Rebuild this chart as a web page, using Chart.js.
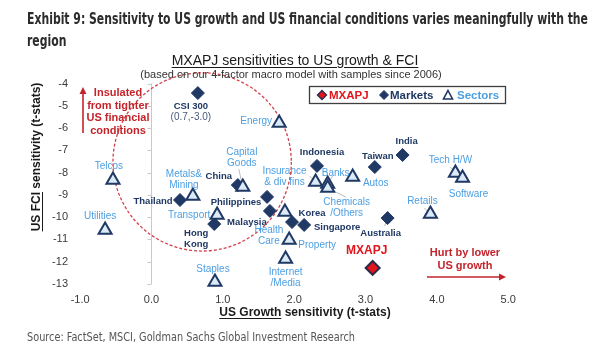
<!DOCTYPE html>
<html>
<head>
<meta charset="utf-8">
<script src="https://cdn.jsdelivr.net/npm/chart.js@4.4.1/dist/chart.umd.min.js"></script>
<style>
html,body{margin:0;padding:0;background:#fff;width:600px;height:352px;overflow:hidden;}
#wrap{position:relative;width:600px;height:352px;}
#c{position:absolute;left:0;top:0;}
.t{position:absolute;white-space:nowrap;}
#title{left:27px;top:8px;font-family:'Liberation Sans Narrow','DejaVu Sans Condensed','Roboto Condensed',sans-serif;font-weight:bold;font-size:15.5px;line-height:22px;color:#2b2b2b;transform-origin:0 0;}
#source{left:27px;top:329px;font-family:'Liberation Sans Narrow','DejaVu Sans Condensed',sans-serif;font-size:12.5px;line-height:15px;color:#555;transform-origin:0 0;}
#ctitle{left:0;width:590px;text-align:center;top:52px;font-family:'Liberation Sans',Arial,sans-serif;font-size:14px;line-height:16px;color:#1a1a1a;text-decoration:underline;text-underline-offset:2px;}
#csub{left:0;width:582px;text-align:center;top:68px;font-family:'Liberation Sans',Arial,sans-serif;font-size:11px;line-height:13px;color:#333;}
#xtitle{left:0;width:610px;text-align:center;top:305px;font-family:'Liberation Sans',Arial,sans-serif;font-size:12px;font-weight:bold;line-height:15px;color:#1a1a1a;}
#ytitle{left:-63px;width:200px;text-align:center;top:149px;height:16px;font-family:'Liberation Sans',Arial,sans-serif;font-size:12px;font-weight:bold;line-height:15px;color:#1a1a1a;transform:rotate(-90deg);}
u{text-underline-offset:2px;}
</style>
</head>
<body>
<div id="wrap">
<canvas id="c" width="600" height="352"></canvas>
<div class="t" id="title"><div><span id="tl1s">Exhibit 9: Sensitivity to US growth and US financial conditions varies meaningfully with the</span></div><div>region</div></div>
<div class="t" id="ctitle">MXAPJ sensitivities to US growth &amp; FCI</div>
<div class="t" id="csub">(based on our 4-factor macro model with samples since 2006)</div>
<div class="t" id="xtitle"><u>US Growth</u> sensitivity (t-stats)</div>
<div class="t" id="ytitle"><u>US FCI</u> sensitivity (t-stats)</div>
<div class="t" id="source"><span id="srcs">Source: FactSet, MSCI, Goldman Sachs Global Investment Research</span></div>
</div>
<script>
// ---------- data ----------
const marketNames  = ['CSI 300','China','Thailand','Philippines','Malaysia','Hong Kong','Korea','Singapore','Indonesia','Taiwan','India','Australia'];
const marketGrowth = [0.65, 1.21, 0.40, 1.62, 1.66, 0.88, 1.97, 2.14, 2.32, 3.13, 3.52, 3.31];
const marketFCI    = [-4.43, -8.56, -9.23, -9.09, -9.72, -10.31, -10.22, -10.35, -7.70, -7.75, -7.21, -10.04];

const sectorNames  = ['Energy','Telcos','Metals & Mining','Capital Goods','Transport','Utilities','Staples','Health Care','Property','Internet/Media','Insurance & div fins','Banks','Chemicals/Others','Autos','Tech H/W','Software','Retails'];
const sectorGrowth = [1.79, -0.54, 0.58, 1.28, 0.92, -0.65, 0.89, 1.87, 1.93, 1.88, 2.30, 2.47, 2.47, 2.82, 4.26, 4.36, 3.91];
const sectorFCI    = [-5.77, -8.33, -9.05, -8.65, -9.90, -10.58, -12.91, -9.77, -11.02, -11.88, -8.42, -8.51, -8.69, -8.20, -8.02, -8.24, -9.86];

const aggNames  = ['MXAPJ'];
const aggGrowth = [3.10];
const aggFCI    = [-12.28];

const xTickValues = [-1, 0, 1, 2, 3, 4, 5];
const yTickValues = [-4, -5, -6, -7, -8, -9, -10, -11, -12, -13];

// ---------- layout (label placement, decoration) ----------
const labelLayout = {
  'CSI 300': {lines:['CSI 300'], dx:-7, dy:13, sub:'(0.7,-3.0)'},
  'China': {lines:['China'], dx:-19, dy:-9},
  'Thailand': {lines:['Thailand'], dx:-27, dy:1},
  'Philippines': {lines:['Philippines'], dx:-31, dy:5},
  'Malaysia': {lines:['Malaysia'], dx:-23, dy:11},
  'Hong Kong': {lines:['Hong','Kong'], dx:-18, dy:9},
  'Korea': {lines:['Korea'], dx:20, dy:-9},
  'Singapore': {lines:['Singapore'], dx:33, dy:2},
  'Indonesia': {lines:['Indonesia'], dx:5, dy:-14},
  'Taiwan': {lines:['Taiwan'], dx:3, dy:-11},
  'India': {lines:['India'], dx:4, dy:-14},
  'Australia': {lines:['Australia'], dx:-7, dy:15, leader:[-3,8]},
  'MXAPJ': {lines:['MXAPJ'], dx:-6, dy:-17},
  'Energy': {lines:['Energy'], dx:-23, dy:-2},
  'Telcos': {lines:['Telcos'], dx:-4, dy:-14},
  'Metals & Mining': {lines:['Metals&','Mining'], dx:-9, dy:-22},
  'Capital Goods': {lines:['Capital','Goods'], dx:-1, dy:-35, leader:[-4,-18]},
  'Transport': {lines:['Transport'], dx:-28, dy:0},
  'Utilities': {lines:['Utilities'], dx:-5, dy:-14},
  'Staples': {lines:['Staples'], dx:-2, dy:-13},
  'Health Care': {lines:['Health','Care'], dx:-16, dy:18},
  'Property': {lines:['Property'], dx:28, dy:5},
  'Internet/Media': {lines:['Internet','/Media'], dx:0, dy:13},
  'Insurance & div fins': {lines:['Insurance','& div fins'], dx:-31, dy:-11, leader:[-6,-6]},
  'Banks': {lines:['Banks'], dx:8, dy:-11, leader:[5,-8]},
  'Chemicals/Others': {lines:['Chemicals','/Others'], dx:19, dy:14, leader:[18,9]},
  'Autos': {lines:['Autos'], dx:23, dy:6},
  'Tech H/W': {lines:['Tech H/W'], dx:-5, dy:-13, leader:[-5,-6]},
  'Software': {lines:['Software'], dx:6, dy:16},
  'Retails': {lines:['Retails'], dx:-8, dy:-13, leader:[-6,-6]}
};
const circle = {cx:0.71, cy:-7.52, rx:1.25, ry:4.0};

const NAVY = '#1f3864', LBLUE = '#4c9fe2', RED = '#c3242b', MRED = '#e3141c';
const FONT = "'Liberation Sans', Arial, sans-serif";

function pts(xs, ys){ return xs.map((x,i)=>({x:x, y:ys[i]})); }

const decoPlugin = {
  id:'deco',
  beforeDatasetsDraw(chart){
    const ctx = chart.ctx, xs = chart.scales.x, ys = chart.scales.y;
    ctx.save();
    const x0 = Math.round(xs.getPixelForValue(0)) + 0.5;
    ctx.strokeStyle = '#c9c9c9'; ctx.lineWidth = 1;
    ctx.beginPath();
    ctx.moveTo(x0, ys.getPixelForValue(-4)); ctx.lineTo(x0, ys.getPixelForValue(-13));
    yTickValues.forEach(v=>{ const y = Math.round(ys.getPixelForValue(v))+0.5; ctx.moveTo(x0-4, y); ctx.lineTo(x0, y); });
    ctx.stroke();
    const cx = xs.getPixelForValue(circle.cx), cy = ys.getPixelForValue(circle.cy);
    const rx = Math.abs(xs.getPixelForValue(circle.cx + circle.rx) - cx);
    const ry = Math.abs(ys.getPixelForValue(circle.cy + circle.ry) - cy);
    ctx.strokeStyle = '#d2404a'; ctx.lineWidth = 1.3; ctx.setLineDash([3,2]);
    ctx.beginPath(); ctx.ellipse(cx, cy, rx, ry, 0, 0, Math.PI*2); ctx.stroke();
    ctx.setLineDash([]);
    ctx.strokeStyle = '#a8a8a8'; ctx.lineWidth = 0.8;
    chart.data.datasets.forEach((ds, di)=>{
      const meta = chart.getDatasetMeta(di);
      ds.names.forEach((n, i)=>{
        const L = labelLayout[n]; if(!L || !L.leader) return;
        const el = meta.data[i];
        ctx.beginPath(); ctx.moveTo(el.x, el.y); ctx.lineTo(el.x + L.leader[0], el.y + L.leader[1]); ctx.stroke();
      });
    });
    ctx.restore();
  },
  afterDatasetsDraw(chart){
    const ctx = chart.ctx;
    ctx.save();
    ctx.textAlign = 'center'; ctx.textBaseline = 'middle';
    chart.data.datasets.forEach((ds, di)=>{
      const meta = chart.getDatasetMeta(di);
      ds.names.forEach((n, i)=>{
        const L = labelLayout[n]; if(!L) return;
        const el = meta.data[i];
        ctx.font = ds.labelFont; ctx.fillStyle = ds.labelColor;
        L.lines.forEach((t, k)=>{ ctx.fillText(t, el.x + L.dx, el.y + L.dy + k*11); });
        if (L.sub){
          ctx.font = '10px ' + FONT; ctx.fillStyle = '#4a5a78';
          ctx.fillText(L.sub, el.x + L.dx, el.y + L.dy + L.lines.length*11);
        }
      });
    });
    ctx.fillStyle = RED; ctx.strokeStyle = RED; ctx.lineWidth = 1.6;
    ctx.font = 'bold 11px ' + FONT;
    ['Insulated','from tighter','US financial','conditions'].forEach((t,k)=>ctx.fillText(t, 118, 93 + k*12.6));
    ['Hurt by lower','US growth'].forEach((t,k)=>ctx.fillText(t, 465, 253 + k*13));
    ctx.beginPath(); ctx.moveTo(83, 133); ctx.lineTo(83, 92); ctx.stroke();
    ctx.beginPath(); ctx.moveTo(83, 87); ctx.lineTo(79.5, 94); ctx.lineTo(86.5, 94); ctx.closePath(); ctx.fill();
    ctx.beginPath(); ctx.moveTo(427, 277); ctx.lineTo(500, 277); ctx.stroke();
    ctx.beginPath(); ctx.moveTo(506, 277); ctx.lineTo(499, 273.5); ctx.lineTo(499, 280.5); ctx.closePath(); ctx.fill();
    ctx.fillStyle = '#fff'; ctx.fillRect(309, 86, 197, 18);
    ctx.strokeStyle = '#3f3f3f'; ctx.lineWidth = 1.3; ctx.strokeRect(309.5, 86.5, 196, 17);
    function diamond(x, y, r, fill, stroke, lw){
      ctx.beginPath(); ctx.moveTo(x, y-r); ctx.lineTo(x+r, y); ctx.lineTo(x, y+r); ctx.lineTo(x-r, y); ctx.closePath();
      ctx.fillStyle = fill; ctx.fill(); ctx.strokeStyle = stroke; ctx.lineWidth = lw; ctx.stroke();
    }
    diamond(322, 95, 4.5, MRED, '#2a2a4a', 1.4);
    diamond(384, 95, 4.5, NAVY, NAVY, 1);
    ctx.beginPath(); ctx.moveTo(448, 90.5); ctx.lineTo(452.5, 99); ctx.lineTo(443.5, 99); ctx.closePath();
    ctx.strokeStyle = NAVY; ctx.lineWidth = 1.6; ctx.stroke();
    ctx.font = 'bold 11.5px ' + FONT; ctx.textAlign = 'left';
    ctx.fillStyle = MRED; ctx.fillText('MXAPJ', 329, 95.5);
    ctx.fillStyle = NAVY; ctx.fillText('Markets', 390, 95.5);
    ctx.fillStyle = LBLUE; ctx.fillText('Sectors', 457, 95.5);
    ctx.restore();
  }
};

new Chart(document.getElementById('c'), {
  type: 'scatter',
  data: {
    datasets: [
      {label:'Sectors', names: sectorNames, data: pts(sectorGrowth, sectorFCI), pointStyle:'triangle', pointRadius:7.5,
       borderWidth:2, borderColor:NAVY, backgroundColor:'#dce9f6', clip:false,
       labelFont:'10px ' + FONT, labelColor: LBLUE},
      {label:'Markets', names: marketNames, data: pts(marketGrowth, marketFCI), pointStyle:'rectRot', pointRadius:6.5,
       borderWidth:1, borderColor:NAVY, backgroundColor:NAVY, clip:false,
       labelFont:'bold 9.5px ' + FONT, labelColor: NAVY},
      {label:'MXAPJ', names: aggNames, data: pts(aggGrowth, aggFCI), pointStyle:'rectRot', pointRadius:7,
       borderWidth:2, borderColor:'#2a2a4a', backgroundColor:MRED, clip:false,
       labelFont:'bold 12px ' + FONT, labelColor: MRED}
    ]
  },
  options: {
    responsive:false, animation:false, devicePixelRatio:1,
    layout:{padding:{left:0, right:49, top:83.5, bottom:0}},
    plugins:{legend:{display:false}, tooltip:{enabled:false}, title:{display:false}},
    scales:{
      x:{type:'linear', min:-1.1, max:5.6,
         grid:{display:false, drawTicks:false}, border:{display:false},
         afterBuildTicks(s){ s.ticks = xTickValues.map(v=>({value:v})); },
         afterFit(s){ s.height = 68; },
         ticks:{padding:9, color:'#3a3a3a', font:{family:FONT, size:11}, callback:v=>Number(v).toFixed(1)}},
      y:{type:'linear', min:-13, max:-4,
         grid:{display:false, drawTicks:false}, border:{display:false},
         afterBuildTicks(s){ s.ticks = yTickValues.map(v=>({value:v})); },
         afterFit(s){ s.width = 73; },
         ticks:{padding:5, color:'#3a3a3a', font:{family:FONT, size:11}, callback:v=>String(v)}}
    }
  },
  plugins:[decoPlugin]
});

// squeeze condensed title / source horizontally to the reference widths
(function(){
  const t = document.getElementById('title');
  const w1 = document.getElementById('tl1s').getBoundingClientRect().width;
  t.style.transform = 'scaleX(' + (561 / w1).toFixed(4) + ')';
  const src = document.getElementById('source');
  const w2 = document.getElementById('srcs').getBoundingClientRect().width;
  src.style.transform = 'scaleX(' + (328 / w2).toFixed(4) + ')';
})();
</script>
</body>
</html>
